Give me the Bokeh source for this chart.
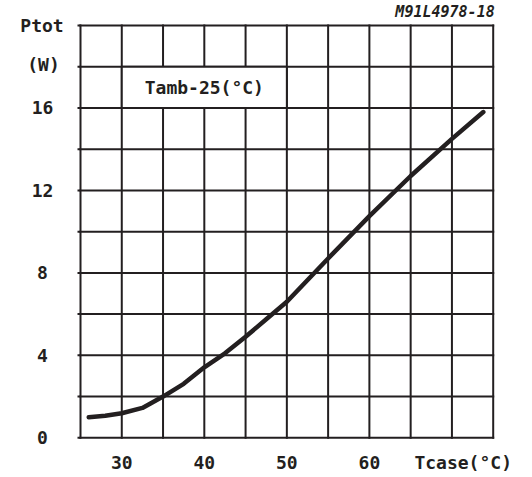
from bokeh.plotting import figure
from bokeh.models import Range1d, Label, ColumnDataSource
from bokeh.core.properties import value
from bokeh.embed import file_html
from bokeh.resources import INLINE

# ---- data ----
tcase = [26, 28, 30, 32.5, 35, 37.5, 40, 42.5, 45, 47.5, 50, 55, 60, 65, 70, 73.8]
ptot = [1.0, 1.07, 1.19, 1.45, 2.0, 2.62, 3.42, 4.1, 4.9, 5.75, 6.6, 8.7, 10.75, 12.7, 14.5, 15.8]

x_ticks = [30, 40, 50, 60]
x_tick_labels = ["30", "40", "50", "60"]
y_ticks = [0, 4, 8, 12, 16]
y_tick_labels = ["0", "4", "8", "12", "16"]
x_grid = [25, 30, 35, 40, 45, 50, 55, 60, 65, 70, 75]
y_grid = [0, 2, 4, 6, 8, 10, 12, 14, 16, 18, 20]
x_min, x_max = 25, 75
y_min, y_max = 0, 20

INK = "#231f20"
FONT = "DejaVu Sans Mono"
FS = "18px"

# canvas geometry: plotting box 413 x 412 px placed at (80, 25)
W, H = 524, 476
BOX_L, BOX_T, BOX_W, BOX_H = 80, 25, 412.7, 412.3
kx = BOX_W / (x_max - x_min)
ky = BOX_H / (y_max - y_min)
xr = Range1d(x_min - BOX_L / kx, x_min + (W - BOX_L) / kx)
yr = Range1d(y_max - (H - BOX_T) / ky, y_max + BOX_T / ky)

p = figure(width=W, height=H, output_backend="svg", toolbar_location=None,
           x_range=xr, y_range=yr, min_border=0)
p.axis.visible = False
p.grid.visible = False
p.outline_line_color = None
p.background_fill_color = "white"
p.border_fill_color = "white"

# grid / frame lines
p.segment(x0=x_grid, x1=x_grid, y0=[y_min] * len(x_grid), y1=[y_max] * len(x_grid),
          line_color=INK, line_width=2, line_cap="square")
p.segment(x0=[x_min] * len(y_grid), x1=[x_max] * len(y_grid), y0=y_grid, y1=y_grid,
          line_color=INK, line_width=2, line_cap="square")
# small outward ticks on the left axis
p.segment(x0=[x_min - 3 / kx] * len(y_grid), x1=[x_min] * len(y_grid), y0=y_grid, y1=y_grid,
          line_color=INK, line_width=2)

# condition box (white cell interrupting the grid)
p.quad(left=[30], right=[50], bottom=[16], top=[18], fill_color="white",
       line_color=INK, line_width=2)

# curve
p.line(tcase, ptot, line_color=INK, line_width=4.5, line_join="round", line_cap="round")

# tick labels
xs = ColumnDataSource(dict(x=x_ticks, y=[y_min - 24.7 / ky] * len(x_ticks), t=x_tick_labels))
p.text(x="x", y="y", text="t", source=xs, text_align="center", text_baseline="middle",
       text_font=value(FONT), text_font_size=FS, text_font_style="bold", text_color=INK)
ys = ColumnDataSource(dict(x=[x_min - 38 / kx] * len(y_ticks), y=y_ticks, t=y_tick_labels))
p.text(x="x", y="y", text="t", source=ys, text_align="center", text_baseline="middle",
       text_font=value(FONT), text_font_size=FS, text_font_style="bold", text_color=INK)

def lab(x, y, t, align="center", size=FS, style="bold"):
    p.add_layout(Label(x=x, y=y, text=t, text_align=align, text_baseline="middle",
                       text_font=FONT, text_font_size=size, text_font_style=style,
                       text_color=INK))

lab(x_min - 38.5 / kx, y_max, "Ptot")
lab(x_min - 37 / kx, y_max - 39 / ky, "(W)")
lab(40.0, 17.0, "Tamb-25(°C)")
lab(x_max - 30 / kx, y_min - 24.7 / ky, "Tcase(°C)")
lab(x_max + 1.5 / kx, y_max + 14 / ky, "M91L4978-18", align="right", size="15px",
    style="bold italic")

open("out.html", "w").write(file_html(p, INLINE))
